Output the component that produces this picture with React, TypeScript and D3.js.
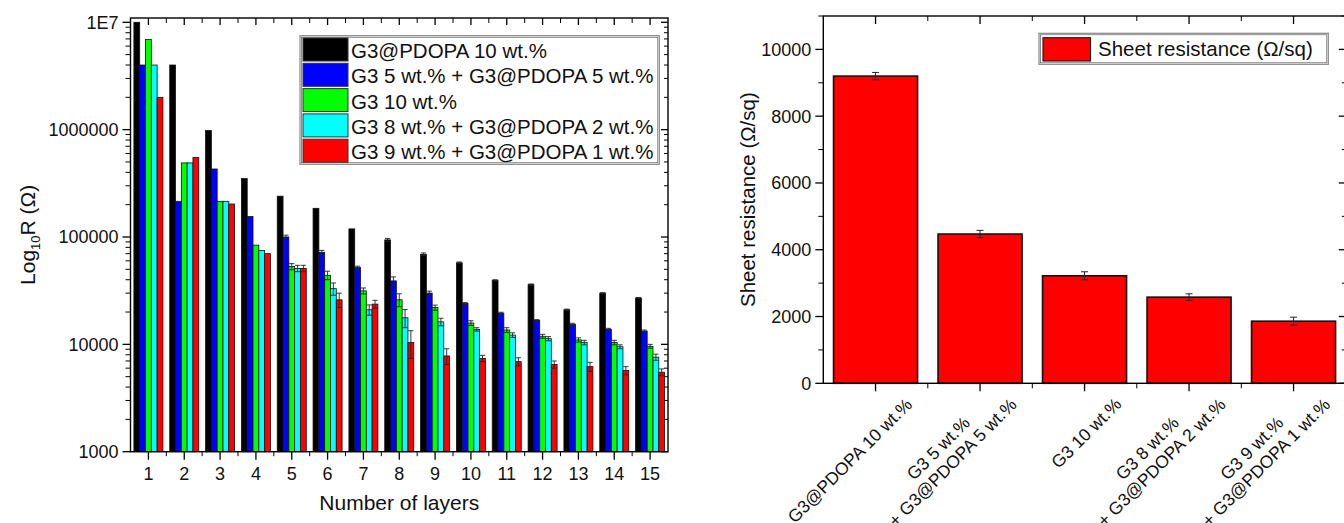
import React from "react";
import * as d3 from "d3";

// ---------- Left chart data ----------
const layers = ["1", "2", "3", "4", "5", "6", "7", "8", "9", "10", "11", "12", "13", "14", "15"];
const seriesNames = [
  "G3@PDOPA 10 wt.%",
  "G3 5 wt.% + G3@PDOPA 5 wt.%",
  "G3 10 wt.%",
  "G3 8 wt.% + G3@PDOPA 2 wt.%",
  "G3 9 wt.% + G3@PDOPA 1 wt.%",
];
const seriesColors = ["#000000", "#0000ff", "#00ff00", "#00ffff", "#ff0000"];

const pdopa10 = [1e7, 4e6, 9.8e5, 3.5e5, 2.4e5, 1.85e5, 1.19e5, 9.4e4, 6.9e4, 5.75e4, 3.95e4, 3.6e4, 2.1e4, 3.0e4, 2.7e4];
const g3_5_pdopa5 = [4e6, 2.15e5, 4.3e5, 1.55e5, 1.0e5, 7.2e4, 5.2e4, 3.9e4, 3.0e4, 2.4e4, 1.95e4, 1.67e4, 1.53e4, 1.38e4, 1.33e4];
const g3_10 = [6.9e6, 4.9e5, 2.15e5, 8.4e4, 5.3e4, 4.4e4, 3.15e4, 2.6e4, 2.2e4, 1.58e4, 1.36e4, 1.19e4, 1.1e4, 1.04e4, 9.6e3];
const g3_8_pdopa2 = [4e6, 4.9e5, 2.15e5, 7.5e4, 5.1e4, 3.3e4, 2.1e4, 1.77e4, 1.62e4, 1.38e4, 1.22e4, 1.13e4, 1.04e4, 9.5e3, 7.6e3];
const g3_9_pdopa1 = [2e6, 5.5e5, 2.03e5, 7.0e4, 5.1e4, 2.6e4, 2.37e4, 1.04e4, 7.8e3, 7.4e3, 6.9e3, 6.5e3, 6.2e3, 5.7e3, 5.5e3];

const pdopa10Err = [0, 0, 0, 0, 0, 0, 0, 3e3, 2e3, 1e3, 5e2, 5e2, 3e2, 3e2, 3e2];
const g3_5_pdopa5Err = [0, 0, 0, 0, 4e3, 3e3, 1.5e3, 3.5e3, 1.3e3, 5e2, 4e2, 3e2, 4e2, 3e2, 3e2];
const g3_10Err = [0, 0, 0, 0, 3.5e3, 4e3, 2e3, 3.6e3, 1.2e3, 8e2, 7e2, 5e2, 5e2, 5e2, 4e2];
const g3_8_pdopa2Err = [0, 0, 0, 0, 3.5e3, 4.3e3, 2.3e3, 3.4e3, 1.3e3, 5e2, 6e2, 5e2, 5e2, 4e2, 5e2];
const g3_9_pdopa1Err = [0, 0, 0, 0, 3.5e3, 4e3, 2e3, 3e3, 1.3e3, 5e2, 6e2, 5e2, 6e2, 5e2, 4e2];

const seriesValues = [pdopa10, g3_5_pdopa5, g3_10, g3_8_pdopa2, g3_9_pdopa1];
const seriesErrors = [pdopa10Err, g3_5_pdopa5Err, g3_10Err, g3_8_pdopa2Err, g3_9_pdopa1Err];

const logTicks = [1000, 10000, 100000, 1000000, 10000000];
const logTickLabels = ["1000", "10000", "100000", "1000000", "1E7"];

// ---------- Right chart data ----------
const sheetCategoryLines = [
  ["G3@PDOPA 10 wt.%"],
  ["G3 5 wt.%", "+ G3@PDOPA 5 wt.%"],
  ["G3 10 wt.%"],
  ["G3 8 wt.%", "+ G3@PDOPA 2 wt.%"],
  ["G3 9 wt.%", "+ G3@PDOPA 1 wt.%"],
];
const sheetValues = [9200, 4470, 3220, 2580, 1860];
const sheetErrors = [110, 110, 120, 100, 120];
const sheetTicks = [0, 2000, 4000, 6000, 8000, 10000];
const sheetMinorTicks = [1000, 3000, 5000, 7000, 9000, 11000];
const sheetLegend = "Sheet resistance (\u03a9/sq)";
const OMEGA = "\u03a9";

const FONT = "'Liberation Sans', Arial, Helvetica, sans-serif";

let _ctx: CanvasRenderingContext2D | null = null;
function measure(text: string, size: number): number {
  if (typeof document === "undefined") return text.length * size * 0.55;
  if (!_ctx) {
    const c = document.createElement("canvas");
    _ctx = c.getContext("2d");
  }
  if (!_ctx) return text.length * size * 0.55;
  _ctx.font = `${size}px ${FONT}`;
  return _ctx.measureText(text).width;
}

function LeftChart() {
  const x0 = 130.5, x1 = 668, yTop = 18, yBot = 451.7;
  const xBand = d3.scaleBand<string>().domain(layers).range([x0, x1]).paddingInner(0.19).paddingOuter(0.095);
  const inner = d3.scaleBand<string>().domain(seriesNames).range([0, xBand.bandwidth()]);
  const y = d3.scaleLog().domain([1000, 1e7]).range([yBot, 22.3]);
  const step = xBand.step();
  const minorLog: number[] = [];
  [1000, 10000, 100000, 1000000].forEach((d) => {
    for (let m = 2; m <= 9; m++) minorLog.push(d * m);
  });
  const centers = layers.map((l) => (xBand(l) as number) + xBand.bandwidth() / 2);
  const halfs = [centers[0] - step / 2, ...centers.map((c) => c + step / 2)];

  return (
    <g>
      {layers.map((l, i) => (
        <g key={l}>
          {seriesNames.map((s, k) => {
            const v = seriesValues[k][i];
            const bx = (xBand(l) as number) + (inner(s) as number);
            const by = y(v);
            return (
              <rect key={s} x={bx} y={by} width={inner.bandwidth()} height={yBot - by}
                fill={seriesColors[k]} stroke="#111" strokeWidth={0.8} />
            );
          })}
        </g>
      ))}
      {layers.map((l, i) => (
        <g key={"e" + l}>
          {seriesNames.map((s, k) => {
            const e = seriesErrors[k][i];
            if (!e) return null;
            const v = seriesValues[k][i];
            const cx = (xBand(l) as number) + (inner(s) as number) + inner.bandwidth() / 2;
            const ya = y(v + e), yb = y(Math.max(v - e, 1001));
            const w = 2.6;
            return (
              <g key={s} stroke="#222" strokeWidth={0.9}>
                <line x1={cx} x2={cx} y1={ya} y2={yb} />
                <line x1={cx - w} x2={cx + w} y1={ya} y2={ya} />
                <line x1={cx - w} x2={cx + w} y1={yb} y2={yb} />
              </g>
            );
          })}
        </g>
      ))}
      <rect x={x0} y={yTop} width={x1 - x0} height={yBot - yTop} fill="none" stroke="#000" strokeWidth={1.4} />
      {logTicks.map((t, i) => (
        <g key={t}>
          <line x1={x0 - 8} x2={x0} y1={y(t)} y2={y(t)} stroke="#000" strokeWidth={1.3} />
          <line x1={x1 - 7} x2={x1} y1={y(t)} y2={y(t)} stroke="#000" strokeWidth={1.3} />
          <text x={x0 - 12} y={y(t)} dy="0.36em" textAnchor="end" fontSize={18} fontFamily={FONT} fill="#111">
            {logTickLabels[i]}
          </text>
        </g>
      ))}
      {minorLog.map((t) => (
        <g key={"m" + t}>
          <line x1={x0 - 5} x2={x0} y1={y(t)} y2={y(t)} stroke="#000" strokeWidth={1} />
          <line x1={x1 - 4} x2={x1} y1={y(t)} y2={y(t)} stroke="#000" strokeWidth={1} />
        </g>
      ))}
      {centers.map((c, i) => (
        <g key={"xc" + i}>
          <line x1={c} x2={c} y1={yBot} y2={yBot + 8} stroke="#000" strokeWidth={1.3} />
          <line x1={c} x2={c} y1={yTop} y2={yTop + 7} stroke="#000" strokeWidth={1.3} />
          <text x={c} y={480} textAnchor="middle" fontSize={18} fontFamily={FONT} fill="#111">{layers[i]}</text>
        </g>
      ))}
      {halfs.slice(1, -1).map((c, i) => (
        <g key={"xh" + i}>
          <line x1={c} x2={c} y1={yBot} y2={yBot + 4.5} stroke="#000" strokeWidth={1} />
          <line x1={c} x2={c} y1={yTop} y2={yTop + 5} stroke="#000" strokeWidth={1} />
        </g>
      ))}
      <text x={(x0 + x1) / 2} y={510} textAnchor="middle" fontSize={21} fontFamily={FONT} fill="#111">Number of layers</text>
      <text transform={`translate(35, ${(yTop + yBot) / 2}) rotate(-90)`} textAnchor="middle" fontSize={21} fontFamily={FONT} fill="#111">
        Log<tspan fontSize={13} dy={5}>10</tspan><tspan dy={-5}>{"R (" + OMEGA + ")"}</tspan>
      </text>
      <rect x={300} y={35.7} width={359.3} height={128.6} fill="#fff" stroke="#888" strokeWidth={1.2} />
      <rect x={301.5} y={37.2} width={356.3} height={125.6} fill="none" stroke="#444" strokeWidth={0.6} />
      {seriesNames.map((s, k) => {
        const top = 38 + k * 25.3;
        return (
          <g key={"lg" + s}>
            <rect x={303} y={top} width={45} height={23} fill={seriesColors[k]} stroke="#333" strokeWidth={1} />
            <text x={351} y={top + 20} fontSize={20.5} fontFamily={FONT} fill="#111">{s}</text>
          </g>
        );
      })}
    </g>
  );
}

function RightChart() {
  const x0 = 823.3, x1 = 1345.8, yTop = 16, yBot = 383.3;
  const idx = sheetValues.map((_, i) => String(i));
  const xBand = d3.scaleBand<string>().domain(idx).range([x0, x1]).paddingInner(0.196).paddingOuter(0.098);
  const y = d3.scaleLinear().domain([0, 11000]).range([yBot, yTop]);
  const step = xBand.step();
  const centers = idx.map((k) => (xBand(k) as number) + xBand.bandwidth() / 2);
  const labelSize = 17.5;
  return (
    <g>
      {idx.map((k, i) => {
        const bx = xBand(k) as number;
        const by = y(sheetValues[i]);
        const cx = centers[i];
        const ya = y(sheetValues[i] + sheetErrors[i]);
        const yb = y(sheetValues[i] - sheetErrors[i]);
        return (
          <g key={k}>
            <rect x={bx} y={by} width={xBand.bandwidth()} height={yBot - by} fill="#ff0000" stroke="#111" strokeWidth={1.6} />
            <g stroke="#222" strokeWidth={1}>
              <line x1={cx} x2={cx} y1={ya} y2={yb} />
              <line x1={cx - 3.5} x2={cx + 3.5} y1={ya} y2={ya} />
              <line x1={cx - 3.5} x2={cx + 3.5} y1={yb} y2={yb} />
            </g>
          </g>
        );
      })}
      <rect x={x0} y={yTop} width={x1 - x0} height={yBot - yTop} fill="none" stroke="#000" strokeWidth={1.4} />
      {sheetTicks.map((t) => (
        <g key={t}>
          <line x1={x0 - 8} x2={x0} y1={y(t)} y2={y(t)} stroke="#000" strokeWidth={1.3} />
          <line x1={x1 - 7} x2={x1} y1={y(t)} y2={y(t)} stroke="#000" strokeWidth={1.3} />
          <text x={x0 - 12} y={y(t)} dy="0.36em" textAnchor="end" fontSize={18} fontFamily={FONT} fill="#111">{t}</text>
        </g>
      ))}
      {sheetMinorTicks.map((t) => (
        <g key={"m" + t}>
          <line x1={x0 - 5} x2={x0} y1={y(t)} y2={y(t)} stroke="#000" strokeWidth={1} />
          <line x1={x1 - 4} x2={x1} y1={y(t)} y2={y(t)} stroke="#000" strokeWidth={1} />
        </g>
      ))}
      {centers.map((c, i) => (
        <g key={"c" + i}>
          <line x1={c} x2={c} y1={yBot} y2={yBot + 8} stroke="#000" strokeWidth={1.3} />
          <line x1={c} x2={c} y1={yTop} y2={yTop + 8} stroke="#000" strokeWidth={1.3} />
          <line x1={c + step / 2} x2={c + step / 2} y1={yBot} y2={yBot + 5} stroke="#000" strokeWidth={1} />
          <line x1={c + step / 2} x2={c + step / 2} y1={yTop} y2={yTop + 5} stroke="#000" strokeWidth={1} />
        </g>
      ))}
      {sheetCategoryLines.map((lines, i) => {
        const maxW = Math.max(...lines.map((l) => measure(l, labelSize)));
        const n = lines.length;
        return (
          <g key={"lab" + i} transform={`translate(${centers[i] + 38}, ${yBot + 22}) rotate(-45)`}>
            {lines.map((l, j) => (
              <text key={j} x={-maxW / 2} y={-(n - 1 - j) * 20} textAnchor="middle" fontSize={labelSize} fontFamily={FONT} fill="#111">
                {l}
              </text>
            ))}
          </g>
        );
      })}
      <text transform={`translate(755, ${(yTop + yBot) / 2}) rotate(-90)`} textAnchor="middle" fontSize={20.5} fontFamily={FONT} fill="#111">
        {sheetLegend}
      </text>
      <rect x={1039} y={33.3} width={289.3} height={31} fill="#fff" stroke="#888" strokeWidth={1.2} />
      <rect x={1040.5} y={34.8} width={286.3} height={28} fill="none" stroke="#444" strokeWidth={0.6} />
      <rect x={1043} y={37.7} width={47.5} height={23.3} fill="#ff0000" stroke="#222" strokeWidth={1.2} />
      <text x={1098} y={56} fontSize={20.5} fontFamily={FONT} fill="#111">{sheetLegend}</text>
    </g>
  );
}

export default function App() {
  React.useEffect(() => {
    document.body.style.margin = "0";
    document.body.style.overflow = "hidden";
  }, []);
  return (
    <svg width={1344} height={523} viewBox="0 0 1344 523" style={{ position: "absolute", left: 0, top: 0, background: "#fff" }}>
      <rect x={0} y={0} width={1344} height={523} fill="#fff" />
      <LeftChart />
      <RightChart />
    </svg>
  );
}
